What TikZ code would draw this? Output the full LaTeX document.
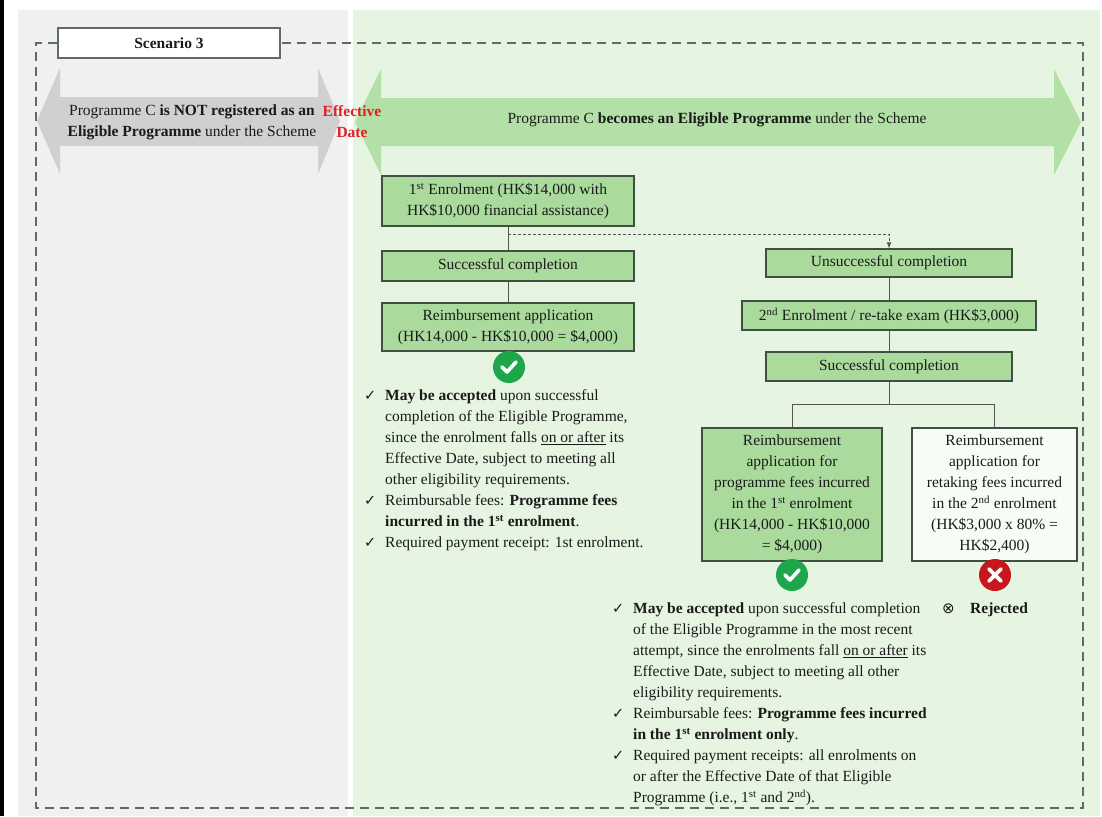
\documentclass[tikz,border=0pt]{standalone}
\usepackage{fontspec}
\setmainfont{Liberation Serif}
\newfontfamily\symf{DejaVu Sans}
\usetikzlibrary{arrows.meta,calc}
\definecolor{graybg}{HTML}{F0F0F0}
\definecolor{greenbg}{HTML}{E6F5E1}
\definecolor{grayarrow}{HTML}{D0D0D0}
\definecolor{greenarrow}{HTML}{B3E0A6}
\definecolor{boxfill}{HTML}{AADB9D}
\definecolor{boxline}{HTML}{3F4F43}
\definecolor{frameline}{HTML}{5E6B66}
\definecolor{effred}{HTML}{E0201F}
\definecolor{okgreen}{HTML}{1EA64B}
\definecolor{nored}{HTML}{C8161D}
\definecolor{txt}{HTML}{1A1A1A}
\definecolor{conn}{HTML}{555555}
\newcommand\fs{\fontsize{15.5}{21}\selectfont}
\newcommand\ck{{\symf\fontsize{14.5}{21}\selectfont ✓}}
\begin{document}
\begin{tikzpicture}[x=1pt,y=-1pt,
  box/.style={draw=boxline, line width=1.2pt, fill=boxfill, inner sep=0pt, align=center, font=\fs, text=txt},
  framestyle/.style={draw=frameline, line width=1.8pt, dash pattern=on 9pt off 6pt},
  link/.style={draw=conn, line width=0.9pt},
  dlink/.style={draw=conn, line width=0.9pt, dash pattern=on 3pt off 2pt, -{Latex[length=6pt,width=5pt]}},
  badge/.style={circle, minimum size=32pt, inner sep=0pt},
  icon/.style={draw=white, line width=3.6pt, line cap=round, line join=round},
  listtxt/.style={anchor=north west, inner sep=0pt, font=\fs, text=txt}]
\useasboundingbox (0,0) rectangle (1102,816);
\fill[white] (0,0) rectangle (1102,816);
\fill[graybg] (18,10) rectangle (348,816);
\fill[greenbg] (353,10) rectangle (1100,816);
\fill[black] (0,0) rectangle (4,816);
% arrows
\fill[grayarrow] (37,121) -- (60,68) -- (60,97) -- (318,97) -- (318,68) -- (340,121) -- (318,174) -- (318,146) -- (60,146) -- (60,174) -- cycle;
\fill[greenarrow] (355,122) -- (381,69) -- (381,98) -- (1054,98) -- (1054,69) -- (1081,122) -- (1054,175) -- (1054,146) -- (381,146) -- (381,175) -- cycle;
% scenario box and frame
\node[draw=frameline, line width=1.2pt, fill=white, minimum width=222pt, minimum height=30pt, inner sep=0pt, font=\fs\bfseries, text=txt] (sc) at (169,43) {Scenario 3};
\draw[framestyle] (sc.west) -- (36,43) -- (36,808) -- (1083,808) -- (1083,43) -- (sc.east);
% arrow texts
\node[font=\fs, align=center, text=txt] (t1) at (192,122) {Programme C \textbf{is NOT registered as an}\\\textbf{Eligible Programme} under the Scheme};
\node[font=\fs\bfseries, align=center, text=effred] (t2) at (352,122) {Effective\\Date};
\node[font=\fs, text=txt] (t3) at (717,120) {Programme C \textbf{becomes an Eligible Programme} under the Scheme};
% left branch
\node[box, minimum width=252pt, minimum height=50pt] (b1) at (508,201) {1\textsuperscript{st} Enrolment (HK\$14,000 with\\HK\$10,000 financial assistance)};
\node[box, minimum width=252pt, minimum height=30pt] (b2) at (508,266) {Successful completion};
\node[box, minimum width=252pt, minimum height=48pt] (b3) at (508,327) {Reimbursement application\\(HK14,000 - HK\$10,000 = \$4,000)};
\node[badge, fill=okgreen] (c1) at (509,367) {};
\draw[icon] ($(c1)+(-7,0)$) -- ($(c1)+(-2,5)$) -- ($(c1)+(7,-5)$);
% right branch
\node[box, minimum width=246pt, minimum height=28pt] (u1) at (889,263) {Unsuccessful completion};
\node[box, minimum width=294pt, minimum height=29pt] (e2) at (889,315.5) {2\textsuperscript{nd} Enrolment / re-take exam (HK\$3,000)};
\node[box, minimum width=246pt, minimum height=29pt] (s3) at (889,366.5) {Successful completion};
\node[box, minimum width=180pt, minimum height=133pt] (r1) at (792,494.5) {Reimbursement\\application for\\programme fees incurred\\in the 1\textsuperscript{st} enrolment\\(HK14,000 - HK\$10,000\\= \$4,000)};
\node[box, fill=white!70!greenbg, minimum width=165pt, minimum height=133pt] (r2) at (994.5,494.5) {Reimbursement\\application for\\retaking fees incurred\\in the 2\textsuperscript{nd} enrolment\\(HK\$3,000 x 80\% =\\HK\$2,400)};
\node[badge, fill=okgreen] (c2) at (792,575) {};
\draw[icon] ($(c2)+(-7,0)$) -- ($(c2)+(-2,5)$) -- ($(c2)+(7,-5)$);
\node[badge, fill=nored] (c3) at (995,575) {};
\draw[icon] ($(c3)+(-6,-6)$) -- ($(c3)+(6,6)$);
\draw[icon] ($(c3)+(-6,6)$) -- ($(c3)+(6,-6)$);
% connectors
\coordinate (br) at (508,234);
\coordinate (fork) at (889,404);
\draw[link] (b1.south) -- (b2.north);
\draw[link] (b2.south) -- (b3.north);
\draw[dlink] (br) -| (u1.north);
\draw[link] (u1.south) -- (e2.north);
\draw[link] (e2.south) -- (s3.north);
\draw[link] (s3.south) -- (fork);
\draw[link] (fork) -| (r1.north);
\draw[link] (fork) -| (r2.north);
% lists
\node[listtxt] (l1) at (364,386) {\begin{tabular}{@{}p{21pt}@{}l@{}}
\ck & \textbf{May be accepted} upon successful\\
 & completion of the Eligible Programme,\\
 & since the enrolment falls \underline{on or after} its\\
 & Effective Date, subject to meeting all\\
 & other eligibility requirements.\\
\ck & Reimbursable fees: \textbf{Programme fees}\\
 & \textbf{incurred in the 1\textsuperscript{st} enrolment}.\\
\ck & Required payment receipt: 1st enrolment.
\end{tabular}};
\node[listtxt] (l2) at (612,599) {\begin{tabular}{@{}p{21pt}@{}l@{}}
\ck & \textbf{May be accepted} upon successful completion\\
 & of the Eligible Programme in the most recent\\
 & attempt, since the enrolments fall \underline{on or after} its\\
 & Effective Date, subject to meeting all other\\
 & eligibility requirements.\\
\ck & Reimbursable fees: \textbf{Programme fees incurred}\\
 & \textbf{in the 1\textsuperscript{st} enrolment only}.\\
\ck & Required payment receipts: all enrolments on\\
 & or after the Effective Date of that Eligible\\
 & Programme (i.e., 1\textsuperscript{st} and 2\textsuperscript{nd}).
\end{tabular}};
\node[listtxt] (l3) at (942,599) {\begin{tabular}{@{}p{28pt}@{}l@{}}
{\symf\fontsize{15}{21}\selectfont ⊗} & \textbf{Rejected}
\end{tabular}};
\end{tikzpicture}
\end{document}
